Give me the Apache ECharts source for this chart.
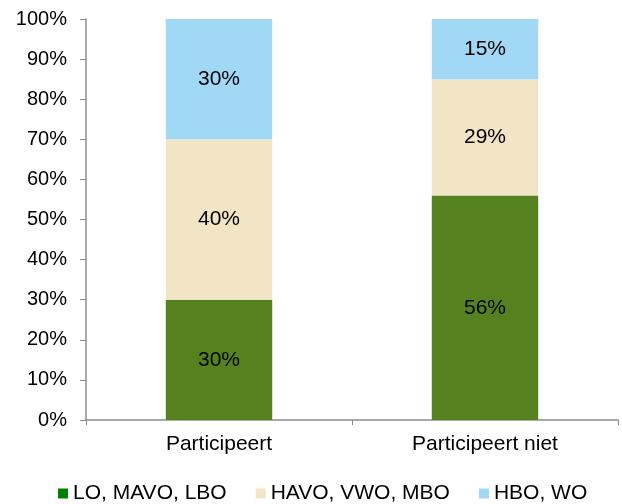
<!DOCTYPE html>
<html>
<head>
<meta charset="utf-8">
<script src="https://cdn.jsdelivr.net/npm/echarts@6/dist/echarts.min.js"></script>
<style>
  body { margin: 0; background: #fff; }
  #chart { width: 622px; height: 504px; }
</style>
</head>
<body>
<div id="chart"></div>
<script>
// categorieen en percentages per opleidingsniveau
var categories = ['Participeert', 'Participeert niet'];
var loMavoLbo = [30, 56];
var havoVwoMbo = [40, 29];
var hboWo = [30, 15];
var yTicks = [0, 10, 20, 30, 40, 50, 60, 70, 80, 90, 100];

var font = 'Liberation Sans, Arial, sans-serif';

function serie(name, data, color, legendColor) {
  return {
    name: name,
    type: 'bar',
    stack: 'totaal',
    barWidth: '40%',
    data: data,
    itemStyle: { color: color },
    label: {
      show: true,
      position: 'inside',
      formatter: '{c}%',
      color: '#000',
      fontFamily: font,
      fontSize: 21
    },
    legendColor: legendColor
  };
}

var series = [
  serie('LO, MAVO, LBO', loMavoLbo, '#55821e', '#008000'),
  serie('HAVO, VWO, MBO', havoVwoMbo, '#f2e5c6', '#f2e5c6'),
  serie('HBO, WO', hboWo, '#a1d8f5', '#a1d8f5')
];

var chart = echarts.init(document.getElementById('chart'));
chart.setOption({
  animation: false,
  grid: { left: 86, right: 4, top: 19, bottom: 84, containLabel: false },
  legend: {
    top: 483,
    left: 58,
    itemWidth: 10,
    itemHeight: 10,
    itemGap: 29,
    icon: 'rect',
    padding: 0,
    textStyle: { fontFamily: font, fontSize: 21, color: '#000', padding: [0, 0, 0, 0] },
    data: series.map(function (s) {
      return { name: s.name, itemStyle: { color: s.legendColor } };
    })
  },
  xAxis: {
    type: 'category',
    data: categories,
    axisLine: { lineStyle: { color: '#8c8c8c', width: 1.5 } },
    axisTick: { show: true, length: 5, alignWithLabel: false, lineStyle: { color: '#8c8c8c' } },
    axisLabel: { fontFamily: font, fontSize: 21, color: '#000', margin: 14 }
  },
  yAxis: {
    type: 'value',
    min: yTicks[0],
    max: yTicks[yTicks.length - 1],
    interval: 10,
    axisLine: { show: true, lineStyle: { color: '#8c8c8c', width: 1.5 } },
    axisTick: { show: true, length: 6, lineStyle: { color: '#8c8c8c' } },
    splitLine: { show: false },
    axisLabel: { fontFamily: font, fontSize: 20, color: '#000', margin: 19, formatter: '{value}%' }
  },
  series: series.map(function (s) {
    var o = Object.assign({}, s);
    delete o.legendColor;
    return o;
  })
});
</script>
</body>
</html>
